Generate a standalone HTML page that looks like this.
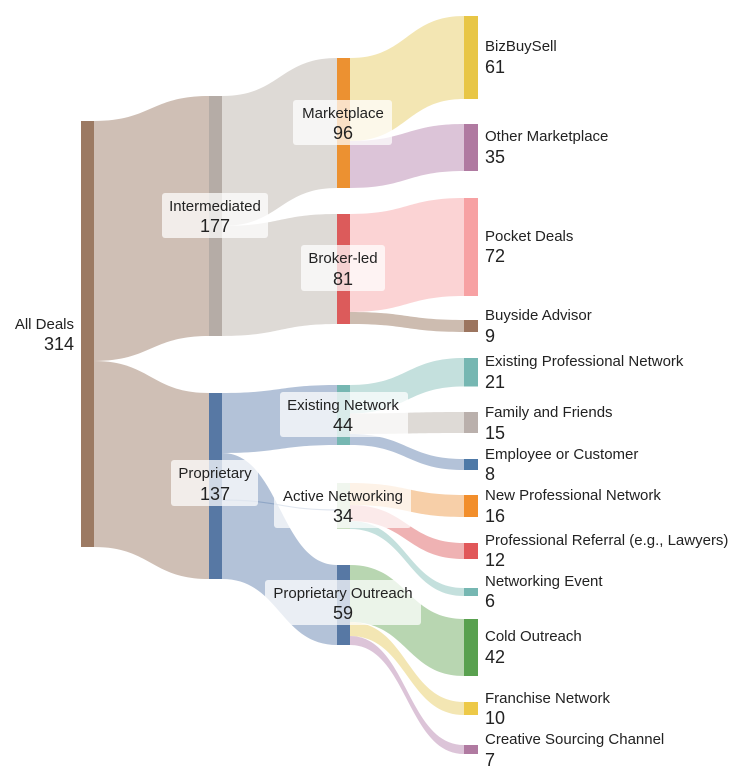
<!DOCTYPE html>
<html><head><meta charset="utf-8"><style>
body{margin:0;background:#fff}
svg{display:block;font-family:"Liberation Sans",Arial,sans-serif}
.n{font-size:15px;fill:#222}
.v{font-size:18px;fill:#222}
</style></head><body>
<svg width="748" height="780" viewBox="0 0 748 780">
<g>
<path d="M94,121 C151,121 151,96 209,96 L209,336 C151,336 151,361 94,361 Z" fill="#cfbfb5"/>
<path d="M94,361 C151,361 151,393 209,393 L209,579 C151,579 151,547 94,547 Z" fill="#cfbfb5"/>
<path d="M222,96 C280,96 280,58 337,58 L337,188 C280,188 280,226 222,226 Z" fill="#dedad6"/>
<path d="M222,226 C280,226 280,214 337,214 L337,324 C280,324 280,336 222,336 Z" fill="#dedad6"/>
<path d="M222,393 C280,393 280,385 337,385 L337,445 C280,445 280,453 222,453 Z" fill="#b3c2d8"/>
<path d="M222,453 C280,453 280,565 337,565 L337,645 C280,645 280,579 222,579 Z" fill="#b3c2d8"/>
<path d="M222,500 C280,500 280,510 337,510" fill="none" stroke="#8fa6c6" stroke-width="1.2"/>
<path d="M350,58 C407,58 407,16 464,16 L464,99 C407,99 407,141 350,141 Z" fill="#f3e6b3"/>
<path d="M350,141 C407,141 407,124 464,124 L464,171 C407,171 407,188 350,188 Z" fill="#dcc4d8"/>
<path d="M350,214 C407,214 407,198 464,198 L464,296 C407,296 407,312 350,312 Z" fill="#fbd3d4"/>
<path d="M350,312 C407,312 407,320 464,320 L464,332 C407,332 407,324 350,324 Z" fill="#cdbcb0"/>
<path d="M350,385 C407,385 407,358 464,358 L464,386.5 C407,386.5 407,413.5 350,413.5 Z" fill="#c4e0dd"/>
<path d="M350,413.5 C407,413.5 407,412 464,412 L464,433 C407,433 407,434 350,434 Z" fill="#dedad6"/>
<path d="M350,434 C407,434 407,459 464,459 L464,470 C407,470 407,445 350,445 Z" fill="#b3c2d8"/>
<path d="M350,483 C407,483 407,495 464,495 L464,517 C407,517 407,505 350,505 Z" fill="#f7cfa8"/>
<path d="M350,505 C407,505 407,543 464,543 L464,559 C407,559 407,521 350,521 Z" fill="#efb2b3"/>
<path d="M350,521 C407,521 407,588 464,588 L464,596 C407,596 407,529 350,529 Z" fill="#c4e0dd"/>
<path d="M350,565 C407,565 407,619 464,619 L464,676 C407,676 407,622 350,622 Z" fill="#b8d6b1"/>
<path d="M350,622 C407,622 407,702 464,702 L464,715 C407,715 407,636 350,636 Z" fill="#f3e6b3"/>
<path d="M350,636 C407,636 407,745 464,745 L464,754 C407,754 407,645 350,645 Z" fill="#dcc4d8"/>
</g>
<rect x="81" y="121" width="13" height="426" fill="#9c7a63"/>
<rect x="209" y="96" width="13" height="240" fill="#b5aca6"/>
<rect x="209" y="393" width="13" height="186" fill="#5778a4"/>
<rect x="337" y="58" width="13" height="130" fill="#ec9131"/>
<rect x="337" y="214" width="13" height="110" fill="#dc5b5b"/>
<rect x="337" y="385" width="13" height="60" fill="#76b7b2"/>
<rect x="337" y="483" width="13" height="46" fill="#c9dfc0"/>
<rect x="337" y="565" width="13" height="80" fill="#5778a4"/>
<rect x="464" y="16" width="14" height="83" fill="#e8c646"/>
<rect x="464" y="124" width="14" height="47" fill="#b07aa1"/>
<rect x="464" y="198" width="14" height="98" fill="#f7a1a3"/>
<rect x="464" y="320" width="14" height="12" fill="#9c755f"/>
<rect x="464" y="358" width="14" height="28.5" fill="#76b7b2"/>
<rect x="464" y="412" width="14" height="21" fill="#bab0ac"/>
<rect x="464" y="459" width="14" height="11" fill="#4e79a7"/>
<rect x="464" y="495" width="14" height="22" fill="#f28e2b"/>
<rect x="464" y="543" width="14" height="16" fill="#e15759"/>
<rect x="464" y="588" width="14" height="8" fill="#76b7b2"/>
<rect x="464" y="619" width="14" height="57" fill="#59a14f"/>
<rect x="464" y="702" width="14" height="13" fill="#edc948"/>
<rect x="464" y="745" width="14" height="9" fill="#b07aa1"/>
<g fill="#fff" fill-opacity="0.72">
<rect x="162" y="193" width="106" height="45" rx="3"/>
<rect x="171" y="460" width="87" height="46" rx="3"/>
<rect x="293" y="100" width="99" height="45" rx="3"/>
<rect x="301" y="245" width="84" height="46" rx="3"/>
<rect x="280" y="392" width="128" height="45" rx="3"/>
<rect x="274" y="483" width="137" height="45" rx="3"/>
<rect x="265" y="580" width="156" height="45" rx="3"/>
</g>
<g text-anchor="middle">
<text class="n" x="215" y="211">Intermediated</text><text class="v" x="215" y="232">177</text>
<text class="n" x="215" y="478">Proprietary</text><text class="v" x="215" y="500">137</text>
<text class="n" x="343" y="118">Marketplace</text><text class="v" x="343" y="139">96</text>
<text class="n" x="343" y="263">Broker-led</text><text class="v" x="343" y="285">81</text>
<text class="n" x="343" y="410">Existing Network</text><text class="v" x="343" y="431">44</text>
<text class="n" x="343" y="501">Active Networking</text><text class="v" x="343" y="522">34</text>
<text class="n" x="343" y="598">Proprietary Outreach</text><text class="v" x="343" y="619">59</text>
</g>
<g text-anchor="end">
<text class="n" x="74" y="329">All Deals</text><text class="v" x="74" y="350">314</text>
</g>
<g>
<text class="n" x="485" y="51">BizBuySell</text><text class="v" x="485" y="73">61</text>
<text class="n" x="485" y="141">Other Marketplace</text><text class="v" x="485" y="163">35</text>
<text class="n" x="485" y="241">Pocket Deals</text><text class="v" x="485" y="262">72</text>
<text class="n" x="485" y="320">Buyside Advisor</text><text class="v" x="485" y="342">9</text>
<text class="n" x="485" y="366">Existing Professional Network</text><text class="v" x="485" y="388">21</text>
<text class="n" x="485" y="417">Family and Friends</text><text class="v" x="485" y="439">15</text>
<text class="n" x="485" y="459">Employee or Customer</text><text class="v" x="485" y="480">8</text>
<text class="n" x="485" y="500">New Professional Network</text><text class="v" x="485" y="522">16</text>
<text class="n" x="485" y="545">Professional Referral (e.g., Lawyers)</text><text class="v" x="485" y="566">12</text>
<text class="n" x="485" y="586">Networking Event</text><text class="v" x="485" y="607">6</text>
<text class="n" x="485" y="641">Cold Outreach</text><text class="v" x="485" y="663">42</text>
<text class="n" x="485" y="703">Franchise Network</text><text class="v" x="485" y="724">10</text>
<text class="n" x="485" y="744">Creative Sourcing Channel</text><text class="v" x="485" y="766">7</text>
</g>
</svg>
</body></html>
